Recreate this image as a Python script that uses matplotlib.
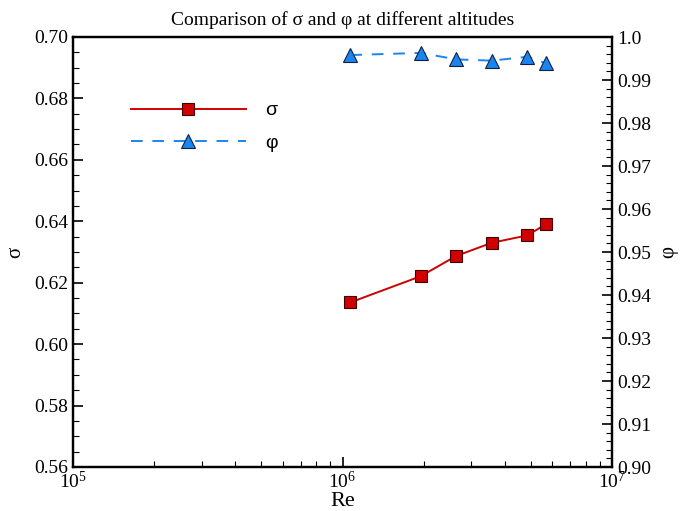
import numpy as np
import matplotlib.pyplot as plt
from matplotlib.ticker import MultipleLocator, LogLocator, FixedLocator

plt.rcParams['font.family'] = 'Liberation Serif'
plt.rcParams['mathtext.fontset'] = 'stix'

# Reynolds number at each altitude
re = [1.07e6, 1.95e6, 2.64e6, 3.58e6, 4.85e6, 5.67e6]
sigma = [0.6136, 0.6221, 0.6287, 0.6330, 0.6354, 0.6390]
phi = [0.9958, 0.9963, 0.9948, 0.9945, 0.9954, 0.9939]

red = '#d00000'
blue = '#1a85f0'

fig = plt.figure(figsize=(6.81, 5.11), dpi=100)
ax = fig.add_axes([73/681, 1-467/511, (612-73)/681, (467-37)/511])
ax2 = ax.twinx()

l1, = ax.plot(re, sigma, color=red, lw=1.4, marker='s', ms=9,
              mfc=red, mec='#400000', mew=0.8)
l2, = ax2.plot(re, phi, color=blue, lw=1.4, ls=(0, (6, 5)), marker='^', ms=10,
               mfc=blue, mec='#102040', mew=0.8)

ax.set_xscale('log')
ax.set_xlim(1e5, 1e7)
ax.set_ylim(0.56, 0.70)
ax2.set_ylim(0.90, 1.0)

ax.xaxis.set_major_locator(FixedLocator([1e5, 1e6, 1e7]))
ax.xaxis.set_minor_locator(LogLocator(base=10, subs=np.arange(2, 10)))
ax.yaxis.set_major_locator(MultipleLocator(0.02))
ax.yaxis.set_minor_locator(MultipleLocator(0.005))
ax2.yaxis.set_major_locator(MultipleLocator(0.01))
ax2.yaxis.set_minor_locator(MultipleLocator(0.002))
ax.yaxis.set_major_formatter(lambda v, p: f'{v:.2f}')
ax2.yaxis.set_major_formatter(lambda v, p: '1.0' if abs(v - 1) < 1e-9 else f'{v:.2f}')

for a in (ax, ax2):
    a.tick_params(which='both', direction='in', labelsize=14, width=1.2)
    a.tick_params(which='major', length=7)
    a.tick_params(which='minor', length=4, width=0.8)
    for s in a.spines.values():
        s.set_linewidth(1.6)
ax.tick_params(axis='x', pad=3)

ax.set_xlabel('Re', fontsize=16, labelpad=0)
ax.set_ylabel('σ', fontsize=15, labelpad=6)
ax2.set_ylabel('φ', fontsize=15, labelpad=6)
ax.set_title('Comparison of σ and φ at different altitudes', fontsize=14, pad=9)

ax.legend([l1, l2], ['σ', 'φ'], loc='upper left', bbox_to_anchor=(0.075, 0.89),
          frameon=False, handlelength=5.9, handletextpad=1.0, labelspacing=0.75,
          prop={'family': 'Liberation Sans', 'size': 14}, markerscale=1.0)

fig.savefig('out.png', dpi=100)
